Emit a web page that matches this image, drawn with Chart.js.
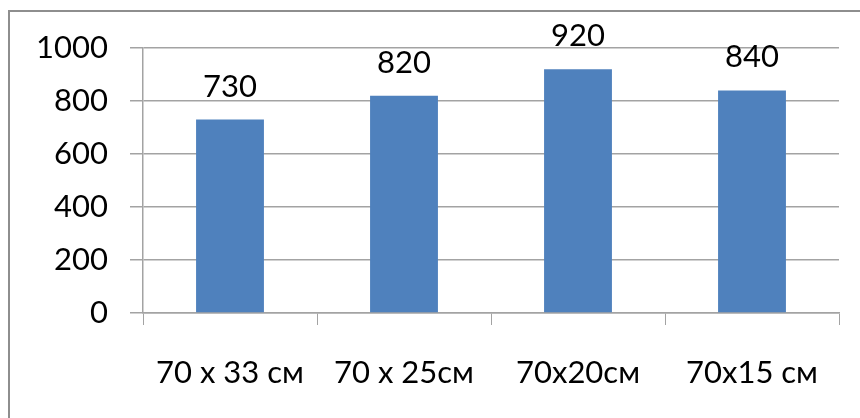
<!DOCTYPE html>
<html>
<head>
<meta charset="utf-8">
<script src="https://cdn.jsdelivr.net/npm/chart.js@4"></script>
<style>
  html, body { margin: 0; padding: 0; background: #ffffff; }
  #wrap { width: 860px; height: 418px; position: relative; }
</style>
</head>
<body>
<div id="wrap"><canvas id="c" width="860" height="418"></canvas></div>
<script>
// Sizes of the panels and the measured quantity for each
const categories = ['70 x 33 см', '70 x 25см', '70x20см', '70x15 см'];
const values = [730, 820, 920, 840];
const yTicks = [0, 200, 400, 600, 800, 1000];

const FONT = 'Lato, "Open Sans", sans-serif';
const FONT_SIZE = 31;
const gridColor = '#a3a3a3';

// Grey frame around the chart (top and left edges)
const framePlugin = {
  id: 'frame',
  beforeDraw(chart) {
    const ctx = chart.ctx;
    ctx.save();
    ctx.strokeStyle = '#8e8e8e';
    ctx.lineWidth = 2;
    ctx.beginPath();
    ctx.moveTo(9, 418);
    ctx.lineTo(9, 11);
    ctx.lineTo(860, 11);
    ctx.stroke();
    ctx.restore();
  }
};

// Value labels above each bar
const valueLabels = {
  id: 'valueLabels',
  afterDatasetsDraw(chart) {
    const ctx = chart.ctx;
    const meta = chart.getDatasetMeta(0);
    ctx.save();
    ctx.font = FONT_SIZE + 'px ' + FONT;
    ctx.fillStyle = '#000000';
    ctx.textAlign = 'center';
    ctx.textBaseline = 'alphabetic';
    meta.data.forEach((bar, i) => {
      ctx.fillText(String(values[i]), bar.x, bar.y - 23);
    });
    ctx.restore();
  }
};

new Chart(document.getElementById('c'), {
  type: 'bar',
  data: {
    labels: categories,
    datasets: [{
      data: values,
      backgroundColor: '#4f81bd',
      borderWidth: 0,
      barPercentage: 0.39,
      categoryPercentage: 1.0
    }]
  },
  options: {
    responsive: false,
    animation: false,
    events: [],
    layout: { padding: { left: 0, top: 48, right: 21, bottom: 0 } },
    plugins: {
      legend: { display: false },
      tooltip: { enabled: false },
      title: { display: false }
    },
    scales: {
      x: {
        grid: {
          display: true,
          drawOnChartArea: false,
          drawTicks: true,
          tickLength: 12,
          color: gridColor,
          offset: true
        },
        border: { display: true, color: gridColor, width: 1.5 },
        ticks: {
          color: '#000000',
          font: { family: FONT, size: FONT_SIZE },
          padding: 29,
          maxRotation: 0,
          autoSkip: false
        },
        afterFit(scale) { scale.height = 105; }
      },
      y: {
        min: 0,
        max: 1000,
        afterBuildTicks(scale) { scale.ticks = yTicks.map(v => ({ value: v })); },
        grid: {
          color: gridColor,
          lineWidth: 1.5,
          tickLength: 13
        },
        border: { display: true, color: gridColor, width: 1.5 },
        ticks: {
          color: '#000000',
          font: { family: FONT, size: FONT_SIZE },
          padding: 22,
          callback: (v) => String(v)
        },
        afterFit(scale) { scale.width = 143; }
      }
    }
  },
  plugins: [framePlugin, valueLabels]
});
</script>
</body>
</html>
